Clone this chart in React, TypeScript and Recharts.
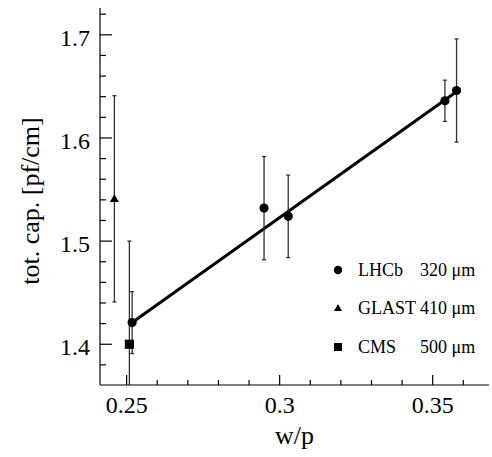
import React from 'react';
import { ComposedChart, Scatter, Line, XAxis, YAxis, ErrorBar } from 'recharts';

// measured points: w/p, capacitance [pF/cm], error
const lhcbX = [0.2518, 0.2949, 0.3028, 0.354, 0.3578];
const lhcbY = [1.421, 1.532, 1.524, 1.636, 1.646];
const lhcbErr = [0.03, 0.05, 0.04, 0.02, 0.05];

const glastX = [0.246];
const glastY = [1.541];
const glastErr = [0.1];

const cmsX = [0.2509];
const cmsY = [1.4];
const cmsErr = [0.1];

// straight-line fit through the LHCb points
const fitX = [0.2518, 0.3588];
const fitY = [1.421, 1.647];

const xTicks = [0.25, 0.26, 0.27, 0.28, 0.29, 0.3, 0.31, 0.32, 0.33, 0.34, 0.35, 0.36];
const xMajor = [0.25, 0.3, 0.35];
const xMajorLabels = ['0.25', '0.3', '0.35'];
const yTicks = [1.38, 1.4, 1.42, 1.44, 1.46, 1.48, 1.5, 1.52, 1.54, 1.56, 1.58, 1.6, 1.62, 1.64, 1.66, 1.68, 1.7, 1.72];
const yMajor = [1.4, 1.5, 1.6, 1.7];
const yMajorLabels = ['1.4', '1.5', '1.6', '1.7'];

const legendNames = ['LHCb', 'GLAST', 'CMS'];
const legendThickness = ['320 μm', '410 μm', '500 μm'];

const lhcb = lhcbX.map((x, i) => ({ x, y: lhcbY[i], err: lhcbErr[i] }));
const glast = glastX.map((x, i) => ({ x, y: glastY[i], err: glastErr[i] }));
const cms = cmsX.map((x, i) => ({ x, y: cmsY[i], err: cmsErr[i] }));
const fit = fitX.map((x, i) => ({ x, y: fitY[i] }));

const FONT = '"Liberation Serif", "Times New Roman", serif';

// plot frame (matches margins / axis sizes below), used to clip error bars
const W = 492;
const H = 457;
const M = { top: 8, right: 3, bottom: 0, left: 0 };
const Y_AXIS_W = 100;
const X_AXIS_H = 72;

const majorIndex = (list: number[], v: number) => list.findIndex(m => Math.abs(m - v) < 1e-6);

const XTick = (props: any) => {
  const { x, y, payload } = props;
  const i = majorIndex(xMajor, payload.value);
  return (
    <g>
      <line x1={x} x2={x} y1={y} y2={y - (i >= 0 ? 10 : 5)} stroke="#000" strokeWidth={1.2} />
      {i >= 0 && (
        <text x={x} y={y + 28} textAnchor="middle" fontSize={24} fontFamily={FONT} fill="#000">
          {xMajorLabels[i]}
        </text>
      )}
    </g>
  );
};

const YTick = (props: any) => {
  const { x, y, payload } = props;
  const i = majorIndex(yMajor, payload.value);
  return (
    <g>
      <line x1={x} x2={x + (i >= 0 ? 12 : 6)} y1={y} y2={y} stroke="#000" strokeWidth={1.2} />
      {i >= 0 && (
        <text x={x - 10} y={y + 11} textAnchor="end" fontSize={24} fontFamily={FONT} fill="#000">
          {yMajorLabels[i]}
        </text>
      )}
    </g>
  );
};

const YTitle = () => (
  <text
    x={30}
    y={201}
    transform="rotate(-90 30 201)"
    textAnchor="middle"
    dominantBaseline="central"
    fontSize={26}
    fontFamily={FONT}
    fill="#000"
  >
    tot. cap. [pf/cm]
  </text>
);

const Dot = (props: any) => <circle cx={props.cx} cy={props.cy} r={4.6} fill="#000" />;
const Tri = (props: any) => {
  const { cx, cy } = props;
  return <path d={`M${cx},${cy - 4.5} L${cx + 4.5},${cy + 3.2} L${cx - 4.5},${cy + 3.2} Z`} fill="#000" />;
};
const Sq = (props: any) => <rect x={props.cx - 4.6} y={props.cy - 4.6} width={9.2} height={9.2} fill="#000" />;

const legendSymbols = [
  <circle cx={5} cy={5} r={4.2} fill="#000" />,
  <path d="M5,1 L9,8 L1,8 Z" fill="#000" />,
  <rect x={1} y={1} width={8} height={8} fill="#000" />,
];
const legendRowY = [270, 308, 347];

export default function App() {
  return (
    <div style={{ position: 'absolute', left: 0, top: 0, width: W, height: H, background: '#fff' }}>
      <style>{`.recharts-errorBars { clip-path: url(#plotFrameClip); }`}</style>
      <svg width={0} height={0} style={{ position: 'absolute' }}>
        <defs>
          <clipPath id="plotFrameClip" clipPathUnits="userSpaceOnUse">
            <rect
              x={M.left + Y_AXIS_W}
              y={M.top}
              width={W - M.left - M.right - Y_AXIS_W}
              height={H - M.top - M.bottom - X_AXIS_H}
            />
          </clipPath>
        </defs>
      </svg>
      <ComposedChart width={W} height={H} margin={M}>
        <XAxis
          dataKey="x"
          type="number"
          domain={[0.2413, 0.3684]}
          allowDataOverflow
          ticks={xTicks}
          interval={0}
          height={X_AXIS_H}
          tickSize={0}
          tickMargin={0}
          tickLine={false}
          axisLine={{ stroke: '#000', strokeWidth: 1.2 }}
          tick={<XTick />}
          label={{ value: 'w/p', position: 'insideBottom', offset: 13, fontSize: 26, fontFamily: FONT, fill: '#000' }}
        />
        <XAxis
          xAxisId="top"
          orientation="top"
          type="number"
          domain={[0.2413, 0.3684]}
          height={0}
          tick={false}
          tickLine={false}
          axisLine={{ stroke: '#000', strokeWidth: 1.2 }}
        />
        <YAxis
          type="number"
          domain={[1.3605, 1.726]}
          allowDataOverflow
          ticks={yTicks}
          interval={0}
          width={Y_AXIS_W}
          tickSize={0}
          tickMargin={0}
          tickLine={false}
          axisLine={{ stroke: '#000', strokeWidth: 1.2 }}
          tick={<YTick />}
          label={<YTitle />}
        />
        <YAxis
          yAxisId="right"
          orientation="right"
          type="number"
          domain={[1.3605, 1.726]}
          width={0}
          tick={false}
          tickLine={false}
          axisLine={{ stroke: '#000', strokeWidth: 1.2 }}
        />
        <Line data={fit} dataKey="y" type="linear" stroke="#000" strokeWidth={3} dot={false} isAnimationActive={false} />
        <Scatter data={lhcb} dataKey="y" shape={<Dot />} isAnimationActive={false}>
          <ErrorBar dataKey="err" direction="y" width={2} stroke="#333" strokeWidth={1.3} />
        </Scatter>
        <Scatter data={glast} dataKey="y" shape={<Tri />} isAnimationActive={false}>
          <ErrorBar dataKey="err" direction="y" width={2} stroke="#333" strokeWidth={1.3} />
        </Scatter>
        <Scatter data={cms} dataKey="y" shape={<Sq />} isAnimationActive={false}>
          <ErrorBar dataKey="err" direction="y" width={2} stroke="#333" strokeWidth={1.3} />
        </Scatter>
      </ComposedChart>
      {legendNames.map((name, i) => (
        <div
          key={name}
          style={{
            position: 'absolute',
            left: 333,
            top: legendRowY[i] - 10,
            height: 20,
            lineHeight: '20px',
            fontFamily: FONT,
            fontSize: 18,
            color: '#000',
            whiteSpace: 'nowrap',
          }}
        >
          <svg width={10} height={10} style={{ position: 'absolute', left: 0, top: 5 }}>
            {legendSymbols[i]}
          </svg>
          <span style={{ position: 'absolute', left: 25 }}>{name}</span>
          <span style={{ position: 'absolute', left: 87 }}>{legendThickness[i]}</span>
        </div>
      ))}
    </div>
  );
}
